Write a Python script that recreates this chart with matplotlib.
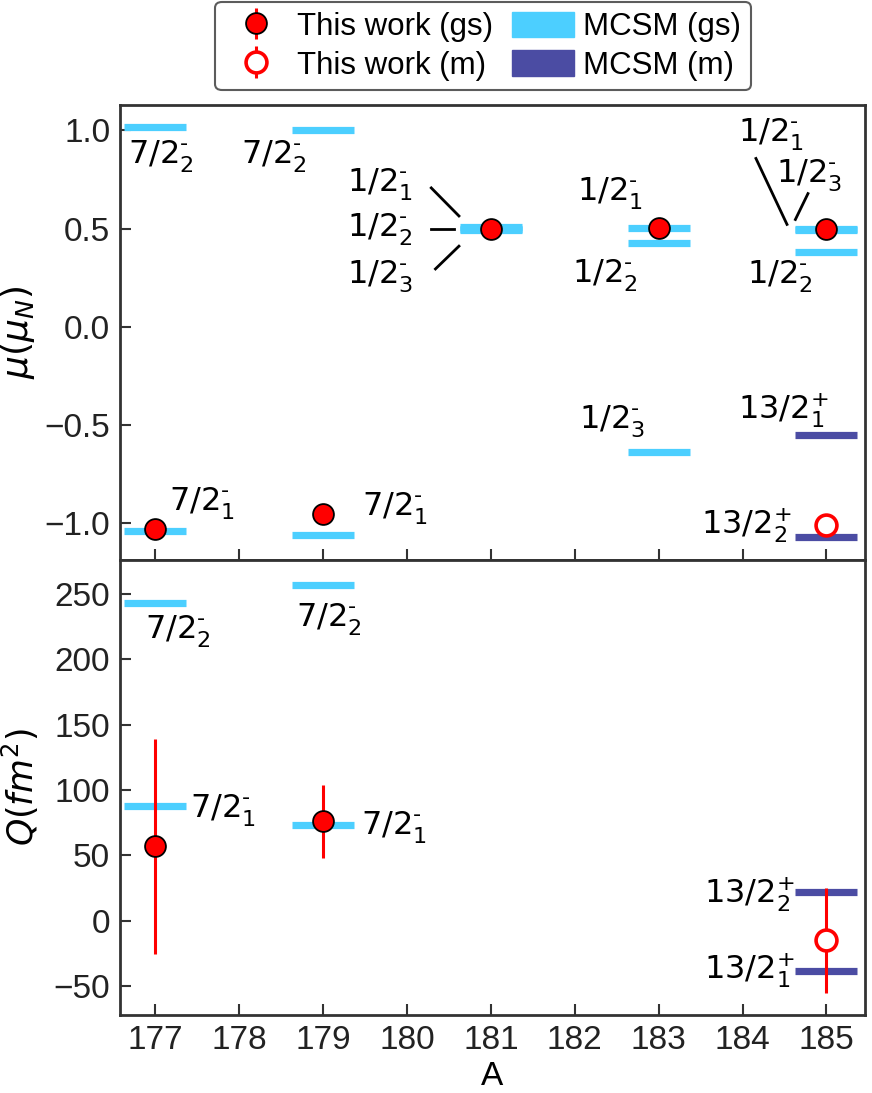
import matplotlib
matplotlib.use("Agg")
import matplotlib.pyplot as plt
from matplotlib.patches import Patch

plt.rcParams['font.family'] = ['Liberation Sans', 'DejaVu Sans']
plt.rcParams['mathtext.fontset'] = 'dejavusans'

# ---------------- data ----------------
# experimental magnetic moments (this work)
mu_gs_A = [177, 179, 181, 183, 185]
mu_gs = [-1.03, -0.955, 0.50, 0.505, 0.50]
mu_m_A = [185]
mu_m = [-1.01]

# MCSM magnetic moments, ground-state band
mcsm_mu_gs_A = [177, 177, 179, 179, 181, 181, 181, 183, 183, 183, 185, 185, 185]
mcsm_mu_gs = [1.02, -1.04, 1.00, -1.06, 0.51, 0.50, 0.49, 0.504, 0.428, -0.637, 0.50, 0.38, 0.49]
# MCSM magnetic moments, isomer
mcsm_mu_m_A = [185, 185]
mcsm_mu_m = [-0.555, -1.07]

# experimental quadrupole moments
Q_gs_A = [177, 179]
Q_gs = [57, 76]
Q_gs_err = [82, 28]
Q_m_A = [185]
Q_m = [-15]
Q_m_err = [40.5]

# MCSM quadrupole moments
mcsm_Q_gs_A = [177, 177, 179, 179]
mcsm_Q_gs = [243, 88, 257, 73]
mcsm_Q_m_A = [185, 185]
mcsm_Q_m = [22, -38]

xticks = [177, 178, 179, 180, 181, 182, 183, 184, 185]

M = r"\text{-}"
# state labels: (text, x, y) -- positions only
mu_labels = [
    (r"$7/2^{%s}_{2}$" % M, 176.68, 0.87),
    (r"$7/2^{%s}_{2}$" % M, 178.02, 0.87),
    (r"$7/2^{%s}_{1}$" % M, 177.17, -0.90),
    (r"$7/2^{%s}_{1}$" % M, 179.46, -0.925),
    (r"$1/2^{%s}_{1}$" % M, 179.28, 0.725),
    (r"$1/2^{%s}_{2}$" % M, 179.28, 0.495),
    (r"$1/2^{%s}_{3}$" % M, 179.28, 0.26),
    (r"$1/2^{%s}_{1}$" % M, 182.03, 0.68),
    (r"$1/2^{%s}_{2}$" % M, 181.97, 0.265),
    (r"$1/2^{%s}_{3}$" % M, 182.05, -0.48),
    (r"$1/2^{%s}_{1}$" % M, 183.95, 0.98),
    (r"$1/2^{%s}_{3}$" % M, 184.40, 0.775),
    (r"$1/2^{%s}_{2}$" % M, 184.05, 0.257),
    (r"$13/2^{+}_{1}$", 183.95, -0.425),
    (r"$13/2^{+}_{2}$", 183.51, -1.01),
]
mu_lines = [
    ((180.29, 180.62), (0.707, 0.564)),
    ((180.29, 180.56), (0.499, 0.499)),
    ((180.34, 180.62), (0.294, 0.410)),
    ((184.16, 184.53), (0.857, 0.521)),
    ((184.78, 184.63), (0.678, 0.546)),
]
Q_labels = [
    (r"$7/2^{%s}_{2}$" % M, 176.88, 222),
    (r"$7/2^{%s}_{2}$" % M, 178.68, 231),
    (r"$7/2^{%s}_{1}$" % M, 177.41, 85),
    (r"$7/2^{%s}_{1}$" % M, 179.45, 72),
    (r"$13/2^{+}_{2}$", 183.54, 20),
    (r"$13/2^{+}_{1}$", 183.54, -38),
]

# ---------------- style ----------------
C_GS = '#4ccfff'
C_M = '#4b4ca3'
C_RED = '#ff0000'
SPINE = '#333333'
HW = 0.37
BAR_LW = 5.2
FS_TICK = 24
FS_LAB = 23
FS_LEG = 22.5
FS_YLAB = 25

fig = plt.figure(figsize=(8.72, 10.93), dpi=100)
ax1 = fig.add_axes([0.1376, 0.4876, 0.8544, 0.4164])
ax2 = fig.add_axes([0.1376, 0.0714, 0.8544, 0.4162], sharex=ax1)

def bars(ax, A, v, c):
    ax.hlines(v, [a - HW for a in A], [a + HW for a in A], colors=c, lw=BAR_LW, zorder=2)

bars(ax1, mcsm_mu_gs_A, mcsm_mu_gs, C_GS)
bars(ax1, mcsm_mu_m_A, mcsm_mu_m, C_M)
ax1.plot(mu_gs_A, mu_gs, 'o', ms=15, mfc=C_RED, mec='black', mew=1.3, zorder=4)
ax1.plot(mu_m_A, mu_m, 'o', ms=15, mfc='white', mec=C_RED, mew=2.6, zorder=4)
for t, x, y in mu_labels:
    ax1.text(x, y, t, fontsize=FS_LAB, ha='left', va='center', zorder=5)
for xs, ys in mu_lines:
    ax1.plot(xs, ys, color='black', lw=2, zorder=3)

bars(ax2, mcsm_Q_gs_A, mcsm_Q_gs, C_GS)
bars(ax2, mcsm_Q_m_A, mcsm_Q_m, C_M)
ax2.errorbar(Q_gs_A, Q_gs, yerr=Q_gs_err, fmt='o', ms=15, mfc=C_RED, mec='black',
             mew=1.3, ecolor=C_RED, elinewidth=2.2, capsize=0, zorder=4)
ax2.errorbar(Q_m_A, Q_m, yerr=Q_m_err, fmt='o', ms=15, mfc='white', mec=C_RED,
             mew=2.6, ecolor=C_RED, elinewidth=2.2, capsize=0, zorder=4)
for t, x, y in Q_labels:
    ax2.text(x, y, t, fontsize=FS_LAB, ha='left', va='center', zorder=5)

ax1.set_xlim(176.58, 185.46)
ax1.set_ylim(-1.19, 1.13)
ax2.set_ylim(-72, 276)
ax1.set_yticks([-1.0, -0.5, 0.0, 0.5, 1.0])
ax2.set_yticks([-50, 0, 50, 100, 150, 200, 250])
ax2.set_xticks(xticks)
plt.setp(ax1.get_xticklabels(), visible=False)

for ax in (ax1, ax2):
    ax.tick_params(direction='in', length=8, width=1.5, labelsize=FS_TICK,
                   color=SPINE, labelcolor='#222222', pad=7)
    for s in ax.spines.values():
        s.set_color(SPINE)
        s.set_linewidth(2)

ax1.set_ylabel(r"$\mu(\mu_N)$", fontsize=FS_YLAB + 1)
ax2.set_ylabel(r"$Q(fm^2)$", fontsize=FS_YLAB)
ax2.set_xlabel("A", fontsize=FS_TICK, labelpad=4)
ax1.yaxis.set_label_coords(-0.112, 0.5)
ax2.yaxis.set_label_coords(-0.106, 0.5)

h_gs = ax1.errorbar([], [], yerr=[], fmt='o', ms=15, mfc=C_RED, mec='black', mew=1.3,
                    ecolor=C_RED, elinewidth=2.2)
h_m = ax1.errorbar([], [], yerr=[], fmt='o', ms=15, mfc='white', mec=C_RED, mew=2.6,
                   ecolor=C_RED, elinewidth=2.2)
handles = [h_gs, h_m, Patch(color=C_GS), Patch(color=C_M)]
labels = ["This work (gs)", "This work (m)", "MCSM (gs)", "MCSM (m)"]
leg = fig.legend(handles, labels, ncol=2, loc='upper center', bbox_to_anchor=(0.554, 0.998),
                 borderaxespad=0.0, fontsize=FS_LEG, frameon=True, fancybox=True,
                 columnspacing=0.6, handletextpad=0.3, borderpad=0.3, labelspacing=0.25,
                 handlelength=2.0, handleheight=0.9)
leg.get_frame().set_edgecolor(SPINE)
leg.get_frame().set_linewidth(1.5)

fig.savefig("out.png", dpi=100)
